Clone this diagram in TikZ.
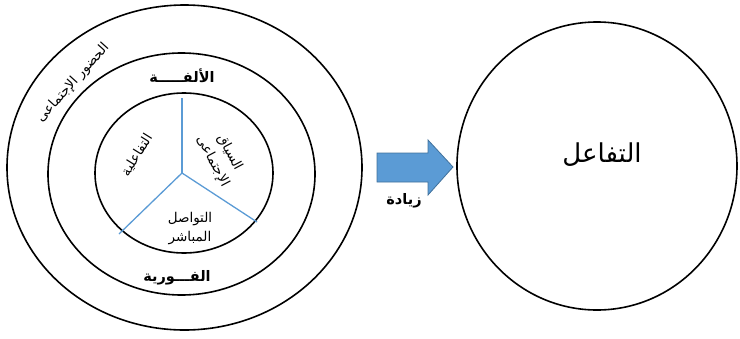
\documentclass[tikz,border=0pt]{standalone}
\usepackage{fontspec}
\usetikzlibrary{shapes.geometric}
\newfontfamily\arabicfont[Script=Arabic]{DejaVu Sans}
\TeXXeTstate=1
\definecolor{spokeblue}{HTML}{5B9BD5}
\definecolor{arrowfill}{HTML}{5B9BD5}
\definecolor{arrowedge}{HTML}{41719C}
\begin{document}
\begin{tikzpicture}[x=1pt,y=-1pt,
  ring/.style={draw, ellipse, line width=1.6pt, inner sep=0pt},
  spoke/.style={draw=spokeblue, line width=1.3pt},
  lbl/.style={font=\arabicfont\fontsize{13.5}{19}\selectfont, inner sep=0pt, align=center},
  bold lbl/.style={font=\arabicfont\bfseries\fontsize{14.5}{17}\selectfont, inner sep=0pt},
  big lbl/.style={font=\arabicfont\fontsize{26}{30}\selectfont, inner sep=0pt},
  bigarrow/.style={fill=arrowfill, draw=arrowedge, line width=0.8pt}]
\useasboundingbox (0,0) rectangle (740,338);
% rings
\node[ring, minimum width=355pt, minimum height=325pt] (outer) at (184.5,167.5) {};
\node[ring, minimum width=267pt, minimum height=242pt] (middle) at (181.5,174) {};
\node[ring, minimum width=178pt, minimum height=160pt] (inner) at (184,173) {};
\node[ring, minimum width=280pt, minimum height=288pt] (result) at (597,166) {};
% spokes
\coordinate (hub) at (182,173);
\coordinate (s1) at (182,98);
\coordinate (s2) at (257,222);
\coordinate (s3) at (119,234);
\draw[spoke] (hub) -- (s1);
\draw[spoke] (hub) -- (s2);
\draw[spoke] (hub) -- (s3);
% labels
\node[lbl, rotate=48] (presence) at (73,83) {\beginR الحضور الإجتماعى\endR};
\node[bold lbl] (ulfa) at (182,76) {\beginR الألفـــــة\endR};
\node[bold lbl] (fawr) at (177,278) {\beginR الفـــورية\endR};
\node[lbl, rotate=58] (tafaul) at (137,155) {\beginR التفاعلية\endR};
\node[lbl, rotate=-62] (siyaq) at (221,157) {\beginR السياق\endR\\\beginR الإجتماعى\endR};
\node[lbl] (tawasul) at (190,229) {\beginR التواصل\endR\\\beginR المباشر\endR};
\node[big lbl] (interaction) at (602,155) {\beginR التفاعل\endR};
% arrow
\coordinate (a0) at (377,153);
\draw[bigarrow] (a0) -- ++(51,0) -- ++(0,-13) -- ++(25,27) -- ++(-25,28) -- ++(0,-13) -- ++(-51,0) -- cycle;
\node[bold lbl] (ziyada) at (404,201) {\beginR زيادة\endR};
\end{tikzpicture}
\end{document}
